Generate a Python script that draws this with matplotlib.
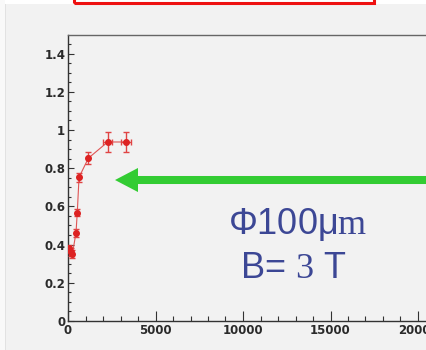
import matplotlib
matplotlib.use("Agg")
import matplotlib.pyplot as plt
from matplotlib.patches import Rectangle, FancyArrow
from matplotlib.ticker import MultipleLocator, FuncFormatter

# Measured efficiency vs. exposure
x_vals = [60, 150, 250, 457, 530, 630, 1162, 2267, 3297]
y_vals = [0.38, 0.36, 0.35, 0.462, 0.567, 0.752, 0.852, 0.937, 0.937]
x_err = [40, 40, 40, 40, 40, 40, 60, 250, 280]
y_err = [0.02, 0.02, 0.02, 0.02, 0.02, 0.025, 0.031, 0.052, 0.052]

x_major_ticks = [0, 5000, 10000, 15000, 20000]
y_major_ticks = [0, 0.2, 0.4, 0.6, 0.8, 1.0, 1.2, 1.4]

label_line1 = "Φ100μ$\\mathrm{m}$"
label_line2 = "B= $\\mathrm{3}$ T"

plt.rcParams["mathtext.fontset"] = "custom"
plt.rcParams["mathtext.rm"] = "Liberation Serif"

W, H = 427, 350
fig = plt.figure(figsize=(W / 100, H / 100), dpi=100, facecolor="#f2f2f2")

# page strips around the canvas
fig.add_artist(Rectangle((0, 1 - 4 / H), 1, 4 / H, transform=fig.transFigure,
                         facecolor="white", edgecolor="none", zorder=0))
fig.add_artist(Rectangle((0, 0), 5 / W, 1, transform=fig.transFigure,
                         facecolor="#f9f9f9", edgecolor="none", zorder=0))
fig.add_artist(Rectangle((5 / W, 0), 1 / W, 1 - 4 / H, transform=fig.transFigure,
                         facecolor="#e2e2e2", edgecolor="none", zorder=0))
# lower edge of the title box
fig.add_artist(Rectangle((74.5 / W, 1 - 2.5 / H), 300 / W, 10 / H, transform=fig.transFigure,
                         facecolor="none", edgecolor="#ee1111", lw=2.2, zorder=5))

left, bottom, top = 68 / W, 29 / H, 315 / H
ax = fig.add_axes([left, bottom, 1 - left, top - bottom])
ax.set_facecolor("none")
ax.set_xlim(0, (W - 68) / 0.0175)
ax.set_ylim(0, 1.497)

for s in ["left", "bottom"]:
    ax.spines[s].set_color("#333333")
    ax.spines[s].set_linewidth(1.0)
ax.spines["top"].set_color("#666666")
ax.spines["top"].set_linewidth(1.0)
ax.spines["right"].set_visible(False)

ax.set_xticks(x_major_ticks)
ax.set_yticks(y_major_ticks)
ax.xaxis.set_minor_locator(MultipleLocator(1000))
ax.yaxis.set_minor_locator(MultipleLocator(0.05))
ax.xaxis.set_major_formatter(FuncFormatter(lambda v, p: f"{v:g}"))
ax.yaxis.set_major_formatter(FuncFormatter(lambda v, p: f"{v:g}"))

ax.tick_params(axis="x", which="major", direction="in", length=7, width=0.8,
               color="#333333", pad=2)
ax.tick_params(axis="x", which="minor", direction="in", length=3.5, width=0.8,
               color="#333333")
ax.tick_params(axis="y", which="major", direction="in", length=4, width=0.8,
               color="#333333", pad=2)
ax.tick_params(axis="y", which="minor", direction="in", length=2, width=0.8,
               color="#333333")
ax.tick_params(top=False, right=False, which="both")
for lab in ax.get_xticklabels() + ax.get_yticklabels():
    lab.set_fontfamily("DejaVu Sans")
    lab.set_fontweight("bold")
    lab.set_fontsize(8.5)
    lab.set_color("#2a2a2a")

ax.plot(x_vals, y_vals, color="#e05555", lw=0.8, zorder=3)
ax.errorbar(x_vals, y_vals, xerr=x_err, yerr=y_err, fmt="o", color="#dd2222",
            ecolor="#e04444", elinewidth=1.0, capsize=2.5, markersize=4, zorder=4)

# pointer arrow
tip_x, tip_y = 2686, 0.738
ax.add_patch(FancyArrow(22000, tip_y, tip_x - 22000, 0, width=0.042,
                        head_width=0.126, head_length=1314,
                        length_includes_head=True, color="#33cc33", lw=0, zorder=5))

fig.text(228 / W, 1 - 234 / H, label_line1, fontsize=26, color="#3c4795",
         fontfamily="Liberation Sans", ha="left", va="baseline")
fig.text(240 / W, 1 - 278 / H, label_line2, fontsize=26, color="#3c4795",
         fontfamily="Liberation Sans", ha="left", va="baseline")

fig.savefig("out.png", dpi=100, facecolor=fig.get_facecolor())
